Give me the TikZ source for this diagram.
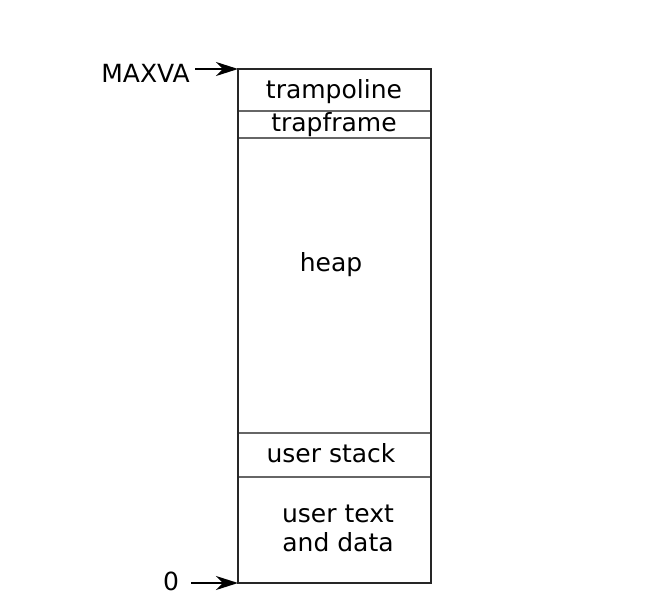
\documentclass[tikz,border=0pt]{standalone}
\usepackage{fontspec}
\setmainfont{DejaVu Sans}
\usetikzlibrary{arrows.meta}
\begin{document}
\begin{tikzpicture}[x=1pt,y=-1pt,
  lbl/.style={font=\fontsize{25}{30}\selectfont, inner sep=0pt, align=center},
  sep/.style={draw=black!60, line width=1.5pt},
  ptr/.style={-{Stealth[length=22pt,width=14pt,inset=7pt]}, line width=2pt}]
\useasboundingbox (0,0) rectangle (653,603);
\fill[white] (0,0) rectangle (653,603);
\coordinate (tl) at (238,69);
\coordinate (br) at (431,583);
\coordinate (bl) at (238,583);
\draw[sep] (238,111) -- (431,111);
\draw[sep] (238,138) -- (431,138);
\draw[sep] (238,433) -- (431,433);
\draw[sep] (238,477) -- (431,477);
\draw[line width=2.3pt, draw=black!85] (tl) rectangle (br);
\node[lbl] (tramp) at (334,92) {trampoline};
\node[lbl] (trapf) at (334,125) {trapframe};
\node[lbl] (heap) at (331,265) {heap};
\node[lbl] (ustack) at (331,453) {user stack};
\node[lbl] (utext) at (338,528) {user text\\[-1pt]and data};
\node[lbl, anchor=east] (maxva) at (190,73) {MAXVA};
\node[lbl] (zero) at (171,581) {0};
\draw[ptr] (maxva.east) ++(5,-4) -- (tl);
\draw[ptr] (191,583) -- (bl);
\end{tikzpicture}
\end{document}
